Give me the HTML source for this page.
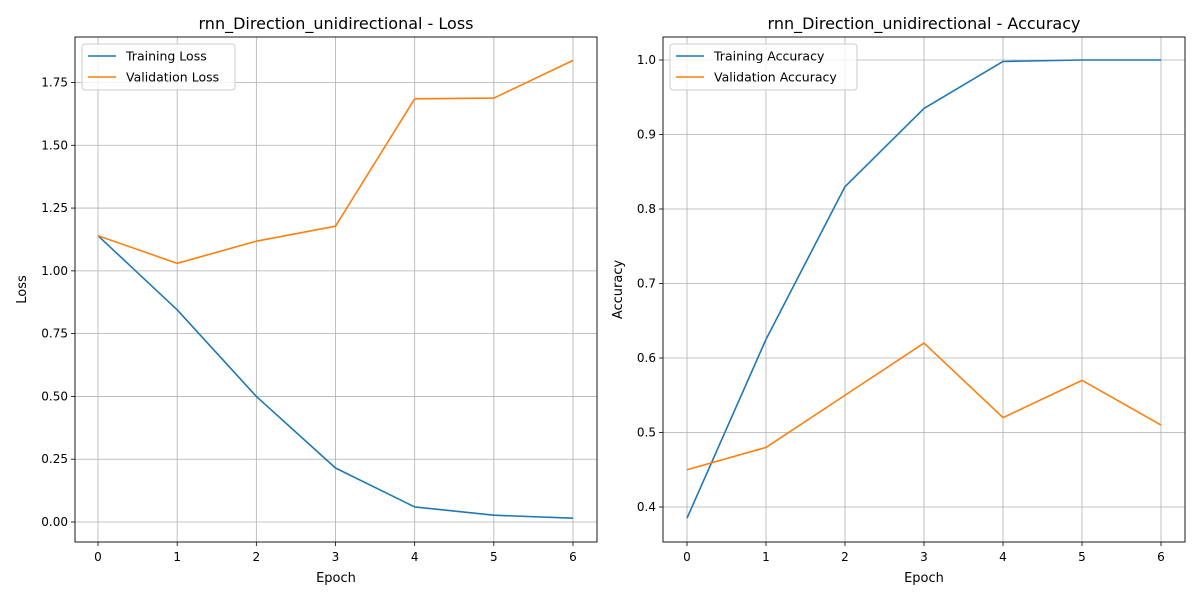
<!DOCTYPE html>
<html><head><meta charset="utf-8"><style>
body{margin:0;background:#fff;font-family:"Liberation Sans","DejaVu Sans",sans-serif}
svg text{font-family:"DejaVu Sans","Liberation Sans",sans-serif}
</style></head><body>
<svg id="c" width="1200" height="600" xmlns="http://www.w3.org/2000/svg"></svg>
<script>
const epochs=[0,1,2,3,4,5,6];
const trainLoss=[1.14,0.845,0.50,0.215,0.06,0.027,0.015];
const valLoss=[1.14,1.03,1.118,1.178,1.685,1.688,1.838];
const trainAcc=[0.385,0.625,0.83,0.935,0.998,1.0,1.0];
const valAcc=[0.45,0.48,0.55,0.62,0.52,0.57,0.51];
const lossTicks=[0,0.25,0.5,0.75,1.0,1.25,1.5,1.75];
const lossTickLabels=["0.00","0.25","0.50","0.75","1.00","1.25","1.50","1.75"];
const accTicks=[0.4,0.5,0.6,0.7,0.8,0.9,1.0];
const accTickLabels=["0.4","0.5","0.6","0.7","0.8","0.9","1.0"];

const svg=document.getElementById('c');
const NS='http://www.w3.org/2000/svg';
function mk(tag,attrs,parent){const e=document.createElementNS(NS,tag);for(const k in attrs)e.setAttribute(k,attrs[k]);(parent||svg).appendChild(e);return e;}

function panel(cfg){
  const g=mk('g',{});
  
  
  const L=cfg.left,R=cfg.right,T=37,B=542;
  const sx=v=>cfg.x0+(v-0)*(cfg.x6-cfg.x0)/6;
  const sy=v=>cfg.yA+(v-cfg.vA)*(cfg.yB-cfg.yA)/(cfg.vB-cfg.vA);
  // grid
  epochs.forEach(e=>{
    const l=mk('line',{x1:sx(e),x2:sx(e),y1:T,y2:B,stroke:'#b0b0b0','stroke-width':0.8},g);
    
    mk('line',{x1:sx(e),x2:sx(e),y1:B,y2:B+4,stroke:'#000','stroke-width':0.8},g);
    const t=mk('text',{x:sx(e),y:B+19,'text-anchor':'middle','font-size':12,fill:'#000'},g);t.textContent=e;
    
  });
  cfg.ticks.forEach((v,i)=>{
    const l=mk('line',{x1:L,x2:R,y1:sy(v),y2:sy(v),stroke:'#b0b0b0','stroke-width':0.8},g);
    
    mk('line',{x1:L-4,x2:L,y1:sy(v),y2:sy(v),stroke:'#000','stroke-width':0.8},g);
    const t=mk('text',{x:L-7,y:sy(v)+4,'text-anchor':'end','font-size':12,fill:'#000'},g);t.textContent=cfg.labels[i];
    
  });
  // series
  cfg.series.forEach(s=>{
    const p=mk('polyline',{points:s.data.map((v,i)=>sx(epochs[i])+','+sy(v)).join(' '),fill:'none',stroke:s.color,'stroke-width':1.6,'stroke-linejoin':'round'},g);
    
  });
  const fr=mk('rect',{x:L,y:T,width:R-L,height:B-T,fill:'none',stroke:'#000','stroke-width':0.9},g);
  
  const ti=mk('text',{x:(L+R)/2,y:29,'text-anchor':'middle','font-size':16,fill:'#000'},g);ti.textContent=cfg.title;
  
  const xl=mk('text',{x:(L+R)/2,y:582,'text-anchor':'middle','font-size':13,fill:'#000'},g);xl.textContent='Epoch';
  
  const yl=mk('text',{x:0,y:0,'text-anchor':'middle','font-size':13,fill:'#000',transform:`translate(${cfg.ylx},${(T+B)/2}) rotate(-90)`},g);yl.textContent=cfg.ylabel;
  
  // legend
  const lg=mk('g',{},g);
  mk('rect',{x:L+7,y:44,width:cfg.legW,height:46,rx:3,fill:'#fff','fill-opacity':0.8,stroke:'#ccc'},lg);
  cfg.series.forEach((s,i)=>{
    const y=56+i*21;
    mk('line',{x1:L+13,x2:L+41,y1:y,y2:y,stroke:s.color,'stroke-width':1.6},lg);
    const t=mk('text',{x:L+51,y:y+4.5,'font-size':12.5,fill:'#000'},lg);t.textContent=s.label;
    
  });
}
panel({name:'loss-panel',left:75,right:597,x0:98,x6:573,yA:522,vA:0,yB:82.5,vB:1.75,ticks:lossTicks,labels:lossTickLabels,
  title:'rnn_Direction_unidirectional - Loss',ylabel:'Loss',ylx:26,legW:153,
  series:[{name:'training-loss-line',label:'Training Loss',data:trainLoss,color:'#1f77b4'},{name:'validation-loss-line',label:'Validation Loss',data:valLoss,color:'#ff7f0e'}]});
panel({name:'accuracy-panel',left:663,right:1185,x0:687,x6:1161,yA:507,vA:0.4,yB:60,vB:1.0,ticks:accTicks,labels:accTickLabels,
  title:'rnn_Direction_unidirectional - Accuracy',ylabel:'Accuracy',ylx:622,legW:187,
  series:[{name:'training-accuracy-line',label:'Training Accuracy',data:trainAcc,color:'#1f77b4'},{name:'validation-accuracy-line',label:'Validation Accuracy',data:valAcc,color:'#ff7f0e'}]});
</script>
</body></html>
